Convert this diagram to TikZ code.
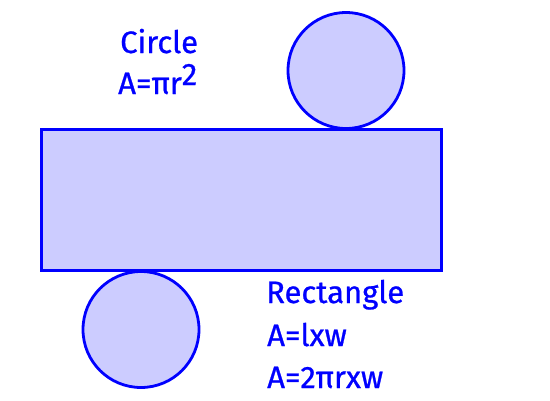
\documentclass[tikz,border=0pt]{standalone}
\usepackage{fontspec}
\setmainfont{Fira Sans}
\newfontfamily\labelfont{Fira Sans}[FakeBold=0.8]
\definecolor{shapeblue}{RGB}{0,0,255}
\definecolor{shapefill}{RGB}{204,204,255}
\begin{document}
\begin{tikzpicture}[x=1pt,y=-1pt,
        solid/.style={draw=shapeblue, fill=shapefill, line width=2.8pt},
        label/.style={anchor=base west, inner sep=0pt, text=shapeblue, font=\labelfont\fontsize{31}{36}\selectfont}]
    \useasboundingbox (0,0) rectangle (550,400);
    \node[solid, circle, minimum size=116pt, inner sep=0pt] (topcircle) at (346,70.5) {};
    \node[solid, circle, minimum size=116pt, inner sep=0pt] (botcircle) at (141,329.5) {};
    \draw[solid] (41.5,129.5) rectangle (441.5,270.5);
    \node[label] (circlename) at (120,53) {Circle};
    \node[label] (circlearea) at (118,94) {A=πr\raisebox{9pt}{2}};
    \node[label] (rectname) at (266,303) {Rectangle};
    \node[label] (rectarea) at (267,346) {A=lxw};
    \node[label] (rectwrap) at (267,388) {A=2πrxw};
\end{tikzpicture}
\end{document}
